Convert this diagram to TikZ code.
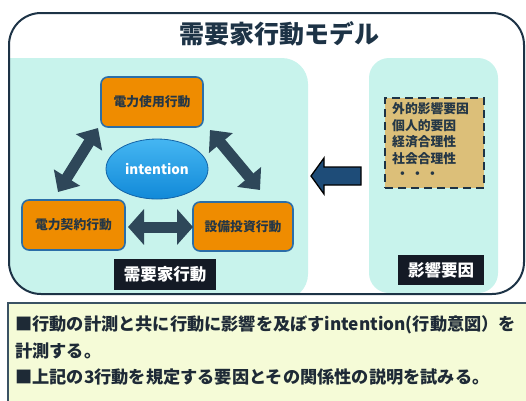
\documentclass[tikz,border=0pt]{standalone}
\usepackage{fontspec}
\setmainfont{Noto Sans CJK JP}
\usetikzlibrary{shapes.geometric,arrows.meta}
\definecolor{frame}{HTML}{1D3346}
\definecolor{cyanp}{HTML}{C8F3EC}
\definecolor{orangeb}{HTML}{EF8C00}
\definecolor{orangeline}{HTML}{2B6EA8}
\definecolor{darktext}{HTML}{253746}
\definecolor{arrowc}{HTML}{2E4759}
\definecolor{bigarrow}{HTML}{1E4C78}
\definecolor{tan}{HTML}{DCBF79}
\definecolor{blacklab}{HTML}{141A25}
\definecolor{yellowb}{HTML}{F5FBD7}
\definecolor{yellowline}{HTML}{3A5263}
\definecolor{elltop}{HTML}{45B6F2}
\definecolor{ellbot}{HTML}{1189D8}
\definecolor{ellline}{HTML}{1463A6}
\definecolor{bottomtc}{HTML}{1E2A36}
\tikzset{
  actbox/.style={rectangle, rounded corners=7pt, fill=orangeb, draw=orangeline, line width=1.6pt,
    inner sep=0pt, text=darktext, font=\bfseries\fontsize{12.8}{14}\selectfont},
  labbox/.style={rectangle, fill=blacklab, inner sep=0pt, text=white,
    font=\bfseries\fontsize{16.5}{18}\selectfont},
  dblarrow/.style={draw=arrowc, line width=11pt,
    {Triangle[length=17pt,width=30pt]}-{Triangle[length=17pt,width=30pt]}},
  hdblarrow/.style={draw=arrowc, line width=11pt,
    {Triangle[length=16pt,width=35pt]}-{Triangle[length=16pt,width=35pt]}},
  factor/.style={anchor=west, inner sep=0pt, text=darktext, font=\bfseries\fontsize{12.8}{14}\selectfont},
  bottomtext/.style={anchor=west, inner sep=0pt, text=bottomtc, font=\bfseries\fontsize{17.2}{19}\selectfont},
}
\begin{document}
\begin{tikzpicture}[x=1pt,y=-1pt]
\useasboundingbox (0,0) rectangle (526,400);
\clip (0,0) rectangle (526,400);
% panels clipped by frame
\begin{scope}
  \clip[rounded corners=32pt] (9,13) rectangle (524,294);
  \fill[cyanp, rounded corners=26pt] (0,58) rectangle (308,300);
  \fill[cyanp] (0,58) rectangle (30,300);
  \fill[cyanp, rounded corners=20pt] (369,58) rectangle (498,293);
\end{scope}
\draw[frame, line width=2pt, rounded corners=32pt] (9,13) rectangle (524,294);
% title
\node[text=frame, font=\bfseries\fontsize{25}{28}\selectfont, inner sep=0pt] (title) at (279,34) {需要家行動モデル};
% activity boxes
\node[actbox, minimum width=102pt, minimum height=50pt] (use) at (152,102) {電力使用行動};
\node[actbox, minimum width=103pt, minimum height=50pt] (contract) at (73.5,225) {電力契約行動};
\node[actbox, minimum width=100pt, minimum height=49pt] (invest) at (243,226.5) {設備投資行動};
% intention
\node[ellipse, minimum width=102pt, minimum height=60pt, inner sep=0pt, top color=elltop, bottom color=ellbot,
  draw=ellline, line width=0.8pt, text=white, font=\bfseries\fontsize{13.5}{15}\selectfont] (int) at (157,169) {intention};
% double arrows
\coordinate (a1) at (98,128);
\coordinate (a2) at (58,192);
\coordinate (b1) at (210,130);
\coordinate (b2) at (260,190);
\coordinate (c1) at (128,227);
\coordinate (c2) at (193,227);
\draw[dblarrow] (a1) -- (a2);
\draw[dblarrow] (b1) -- (b2);
\draw[hdblarrow] (c1) -- (c2);
% labels
\node[labbox, minimum width=102pt, minimum height=31pt] (lab1) at (165,274.5) {需要家行動};
\node[labbox, minimum width=86pt, minimum height=30pt] (lab2) at (441,270) {影響要因};
% dashed factor box
\node[rectangle, fill=tan, draw=frame, line width=2.6pt, dash pattern=on 8pt off 5pt,
  minimum width=99pt, minimum height=90pt, inner sep=0pt] (fbox) at (434.5,143) {};
\node[factor] (f1) at (392,109) {外的影響要因};
\node[factor] (f2) at (392,125.5) {個人的要因};
\node[factor] (f3) at (392,142) {経済合理性};
\node[factor] (f4) at (392,158.5) {社会合理性};
\node[factor] (f5) at (396,175) {・\,・\,・};
% big arrow
\fill[bigarrow, draw=black, line width=1.3pt] (311,176) -- (324,158) -- (324,167) -- (361,167)
  -- (361,185) -- (324,185) -- (324,194) -- cycle;
% bottom text box
\draw[yellowline, fill=yellowb, line width=1.5pt] (8,303) rectangle (540,410);
\node[bottomtext] (t1) at (15,325) {■行動の計測と共に行動に影響を及ぼすintention(行動意図）を};
\node[bottomtext] (t2) at (15,351) {計測する。};
\node[bottomtext] (t3) at (15,377) {■上記の3行動を規定する要因とその関係性の説明を試みる。};
\end{tikzpicture}
\end{document}
